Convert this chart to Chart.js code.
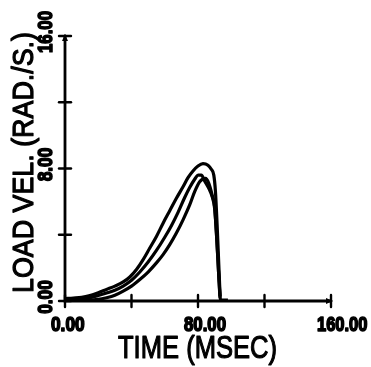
<!DOCTYPE html>
<html>
<head>
<meta charset="utf-8">
<style>
  html, body { margin: 0; padding: 0; background: #fff; overflow: hidden; }
  #wrap { width: 371px; height: 367px; }
</style>
<script src="https://cdn.jsdelivr.net/npm/chart.js@4.4.1/dist/chart.umd.min.js"></script>
</head>
<body>
<div id="wrap"><canvas id="chart" width="371" height="367"></canvas></div>
<script>
// ── Data ──────────────────────────────────────────────────────
const xTicks = [0, 40, 80, 120, 160];
const xLabels = ['0.00', '', '80.00', '', '160.00'];
const yTicks = [0, 4, 8, 12, 16];
const yLabels = ['0.00', '', '8.00', '', '16.00'];
const xTitle = 'TIME (MSEC)';
const yTitle = 'LOAD VEL. (RAD./S.)';

const run1T = [0, 5, 10, 15, 20, 25, 30, 35, 39, 43, 47, 51, 55, 59, 63, 67, 71, 74, 77, 80, 83, 86, 88, 89.5, 90.5, 91.5, 92.5, 93.3];
const run1V = [0.15, 0.18, 0.22, 0.33, 0.5, 0.7, 0.9, 1.15, 1.45, 1.9, 2.5, 3.2, 3.9, 4.7, 5.45, 6.2, 6.9, 7.45, 7.85, 8.15, 8.3, 8.2, 7.95, 7.6, 6.6, 4.6, 2.2, 0.3];

const run2T = [0, 5, 10, 15, 20, 25, 30, 35, 40, 45, 50, 55, 60, 64, 68, 72, 75, 78, 80, 82, 84, 86.5, 88.5, 90, 91.2, 92.4, 93.3];
const run2V = [0.1, 0.1, 0.13, 0.2, 0.33, 0.48, 0.65, 0.9, 1.25, 1.75, 2.35, 3.05, 3.85, 4.55, 5.35, 6.25, 6.85, 7.35, 7.6, 7.6, 7.25, 6.8, 6.3, 5.6, 3.9, 1.7, 0.2];

const run3T = [0, 10, 20, 25, 30, 35, 40, 45, 50, 55, 59, 63, 67, 71, 75, 78, 81, 84.5, 86.5, 88.5, 90, 91.2, 92.4, 93.3, 94, 98];
const run3V = [0.05, 0.06, 0.1, 0.2, 0.35, 0.6, 0.9, 1.3, 1.75, 2.3, 2.8, 3.4, 4.1, 4.9, 5.8, 6.6, 7.2, 7.4, 7.1, 6.4, 5.7, 3.9, 1.7, 0.2, 0.05, 0.05];

const pts = (t, v) => t.map((x, i) => ({ x, y: v[i] }));

// ── Text helper: fit caps text into a box ─────────────────────
const FONT = "'Liberation Sans Narrow', 'Liberation Sans', Arial, sans-serif";
function fitText(ctx, text, cx, cy, w, capH, angle, weight, pen) {
  const size = capH / 0.72;
  ctx.font = `${weight} ${size}px ${FONT}`;
  const m = ctx.measureText(text).width;
  ctx.save();
  ctx.translate(cx, cy);
  ctx.rotate(angle);
  ctx.scale(w / m, 1);
  ctx.textAlign = 'center';
  ctx.textBaseline = 'alphabetic';
  ctx.lineJoin = 'round';
  ctx.lineWidth = pen;
  ctx.fillText(text, 0, capH / 2);
  ctx.strokeText(text, 0, capH / 2);
  ctx.restore();
}

// ── Axes plugin (plotter style) ───────────────────────────────
const plotterAxes = {
  id: 'plotterAxes',
  afterDatasetsDraw(chart) {
    const { ctx, scales: { x, y } } = chart;
    const x0 = x.getPixelForValue(0), x1 = x.getPixelForValue(160);
    const y0 = y.getPixelForValue(0), y1 = y.getPixelForValue(16);
    ctx.save();
    ctx.strokeStyle = '#000';
    ctx.fillStyle = '#000';
    ctx.lineWidth = 2.8;
    ctx.lineCap = 'round';

    ctx.beginPath();
    ctx.moveTo(x0, y1); ctx.lineTo(x0, y0); ctx.lineTo(x1, y0);
    ctx.stroke();

    // tick crosses
    ctx.lineWidth = 2.4;
    yTicks.forEach(v => {
      const py = y.getPixelForValue(v);
      ctx.beginPath(); ctx.moveTo(x0 - 6, py); ctx.lineTo(x0 + 6, py); ctx.stroke();
    });
    xTicks.forEach(v => {
      const px = x.getPixelForValue(v);
      ctx.beginPath(); ctx.moveTo(px, y0 - 6); ctx.lineTo(px, y0 + 6); ctx.stroke();
    });

    // end arrows
    ctx.beginPath();
    ctx.moveTo(x0, y1 - 2); ctx.lineTo(x0 - 3, y1 + 5); ctx.lineTo(x0 + 3, y1 + 5); ctx.closePath(); ctx.fill();
    ctx.beginPath();
    ctx.moveTo(x1 + 2, y0); ctx.lineTo(x1 - 5, y0 - 3); ctx.lineTo(x1 - 5, y0 + 3); ctx.closePath(); ctx.fill();

    // tick labels
    xTicks.forEach((v, i) => {
      if (!xLabels[i]) return;
      const w = xLabels[i].length * 8.4;
      const left = x.getPixelForValue(v) - 14;
      fitText(ctx, xLabels[i], left + w / 2, y0 + 23, w, 14, 0, 'bold', 1.6);
    });
    yTicks.forEach((v, i) => {
      if (!yLabels[i]) return;
      const w = yLabels[i].length * 8.4;
      fitText(ctx, yLabels[i], x0 - 21, y.getPixelForValue(v) - 4, w, 15, -Math.PI / 2, 'bold', 1.6);
    });

    // axis titles
    fitText(ctx, xTitle, 197.5, 346.5, 159, 23, 0, 'normal', 1.2);
    fitText(ctx, yTitle, 22.5, 162.5, 261, 21, -Math.PI / 2, 'normal', 1.2);
    ctx.restore();
  }
};

// ── Chart ─────────────────────────────────────────────────────
const lineStyle = {
  showLine: true,
  borderColor: '#000',
  backgroundColor: '#000',
  borderWidth: 3.2,
  pointRadius: 0,
  cubicInterpolationMode: 'monotone',
  clip: false
};

new Chart(document.getElementById('chart').getContext('2d'), {
  type: 'scatter',
  data: {
    datasets: [
      { label: 'Run 1', data: pts(run1T, run1V), ...lineStyle },
      { label: 'Run 2', data: pts(run2T, run2V), ...lineStyle },
      { label: 'Run 3', data: pts(run3T, run3V), ...lineStyle }
    ]
  },
  options: {
    responsive: false,
    animation: false,
    layout: { padding: { left: 65, top: 36, right: 40, bottom: 66 } },
    plugins: { legend: { display: false }, tooltip: { enabled: false } },
    scales: {
      x: { type: 'linear', min: 0, max: 160, display: false },
      y: { type: 'linear', min: 0, max: 16, display: false }
    }
  },
  plugins: [plotterAxes]
});
</script>
</body>
</html>
